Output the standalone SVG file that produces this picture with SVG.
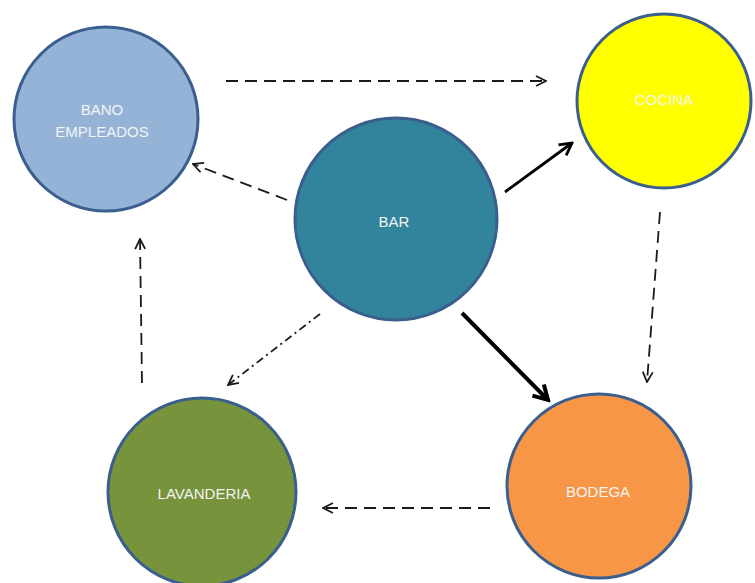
<svg xmlns="http://www.w3.org/2000/svg" width="755" height="583" viewBox="0 0 755 583">
<style>
.node circle{stroke:#3a5f8e;stroke-width:3}
.node text{font-family:"Liberation Sans",Arial,sans-serif;font-size:15px;fill:#f4f4f4;text-anchor:middle}
.dash{fill:none;stroke:#1a1a1a;stroke-width:1.8;stroke-dasharray:12 7}
.dashdot{fill:none;stroke:#1a1a1a;stroke-width:1.8;stroke-dasharray:8 4 2 4}
.solid{fill:none;stroke:#000}
</style>
<defs>
<marker id="open" markerUnits="userSpaceOnUse" viewBox="0 0 12 12" refX="11" refY="6" markerWidth="12" markerHeight="12" orient="auto">
<path d="M1,1 L11,6 L1,11" fill="none" stroke="#1a1a1a" stroke-width="1.8"/>
</marker>
<marker id="open2" markerUnits="userSpaceOnUse" viewBox="0 0 16 16" refX="14" refY="8" markerWidth="16" markerHeight="16" orient="auto">
<path d="M2,1.5 L14,8 L2,14.5" fill="none" stroke="#000" stroke-width="2.8"/>
</marker>
<marker id="open3" markerUnits="userSpaceOnUse" viewBox="0 0 20 20" refX="17" refY="10" markerWidth="20" markerHeight="20" orient="auto">
<path d="M3,2 L17,10 L3,18" fill="none" stroke="#000" stroke-width="4"/>
</marker>
</defs>
<g id="connectors">
<line class="dash" x1="226" y1="81" x2="546" y2="81" marker-end="url(#open)"/>
<line class="dash" x1="287" y1="200" x2="193" y2="164" marker-end="url(#open)"/>
<line class="dashdot" x1="320" y1="314" x2="228" y2="385" marker-end="url(#open)"/>
<line class="solid" stroke-width="2.8" x1="505" y1="192" x2="572" y2="143" marker-end="url(#open2)"/>
<line class="solid" stroke-width="4" x1="462" y1="313" x2="548" y2="400" marker-end="url(#open3)"/>
<line class="dash" x1="660" y1="212" x2="647" y2="382" marker-end="url(#open)"/>
<line class="dash" x1="490" y1="508" x2="323" y2="508" marker-end="url(#open)"/>
<line class="dash" x1="142" y1="383" x2="140" y2="239" marker-end="url(#open)"/>
</g>
<g id="bano" class="node">
<circle cx="106" cy="119" r="92" fill="#95b3d7"/>
<text x="102" y="115">BANO</text>
<text x="102" y="137">EMPLEADOS</text>
</g>
<g id="cocina" class="node">
<circle cx="664" cy="101" r="87" fill="#ffff00"/>
<text x="664" y="105">COCINA</text>
</g>
<g id="bar" class="node">
<circle cx="396" cy="219" r="101" fill="#31849b"/>
<text x="394" y="227">BAR</text>
</g>
<g id="bodega" class="node">
<circle cx="599" cy="486" r="92" fill="#f79646"/>
<text x="598" y="497">BODEGA</text>
</g>
<g id="lavanderia" class="node">
<circle cx="202" cy="492" r="94" fill="#77933c"/>
<text x="204" y="499">LAVANDERIA</text>
</g>
</svg>
